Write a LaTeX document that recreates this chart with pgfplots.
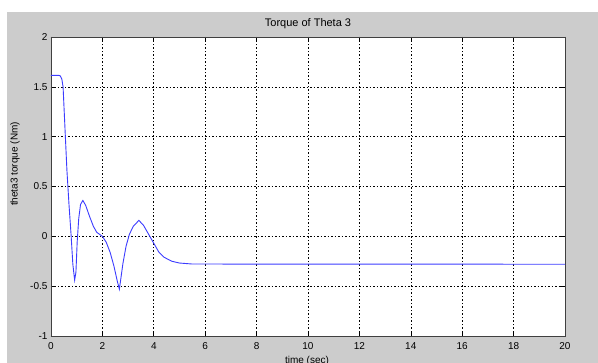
\documentclass[border=0pt]{standalone}
\usepackage{pgfplots}
\pgfplotsset{compat=1.18}
\usepackage{fontspec}
\setmainfont{Liberation Sans}
\definecolor{figgray}{RGB}{204,204,204}
\definecolor{linblue}{RGB}{60,60,255}
\begin{document}
\begin{tikzpicture}[x=1pt,y=1pt]
\useasboundingbox (0,0) rectangle (598,363);
\fill[figgray] (7,0) rectangle (598,351);
\begin{axis}[
  at={(51pt,27pt)}, anchor=south west,
  width=514pt, height=299pt, scale only axis,
  xmin=0, xmax=20, ymin=-1, ymax=2,
  xtick={0,2,...,20}, ytick={-1,-0.5,0,0.5,1,1.5,2},
  axis background/.style={fill=white},
  axis line style={draw=black!75, line width=0.8pt},
  grid=major,
  major grid style={black, line width=0.6pt, dash pattern=on 1.5pt off 2pt},
  tick align=inside, major tick length=5pt,
  tick style={black, line width=0.6pt},
  xtick pos=both, ytick pos=both,
  /pgf/number format/assume math mode=true,
  tick label style={font=\fontsize{10}{12}\selectfont},
  xticklabel style={yshift=-3pt},
  yticklabel style={/pgf/number format/fixed},
  scaled ticks=false,
]
\addplot[linblue, line width=0.9pt] coordinates {
(0,1.615) (0.3,1.615) (0.36,1.61) (0.42,1.58) (0.47,1.50) (0.55,1.05) (0.62,0.66) (0.70,0.32) (0.78,0.02) (0.85,-0.28) (0.92,-0.44) (0.97,-0.36) (1.02,-0.05) (1.08,0.18) (1.15,0.32) (1.24,0.36) (1.35,0.31) (1.5,0.2) (1.65,0.1) (1.78,0.04) (2.0,0.0) (2.15,-0.06) (2.3,-0.16) (2.45,-0.3) (2.58,-0.45) (2.66,-0.53) (2.72,-0.42) (2.8,-0.27) (2.92,-0.1) (3.05,0.02) (3.2,0.1) (3.42,0.16) (3.6,0.11) (3.8,0.02) (4.0,-0.07) (4.2,-0.16) (4.4,-0.21) (4.7,-0.25) (5.0,-0.268) (5.5,-0.278) (20,-0.28)
};
\end{axis}
\node[font=\fontsize{11}{13}\selectfont, anchor=base] at (308,336) {Torque of Theta 3};
\node[font=\fontsize{10}{12}\selectfont, anchor=north, inner sep=0pt] at (307,7) {time (sec)};
\node[font=\fontsize{10}{12}\selectfont, rotate=90, inner sep=0pt] at (15,199) {theta3 torque (Nm)};
\end{tikzpicture}
\end{document}
